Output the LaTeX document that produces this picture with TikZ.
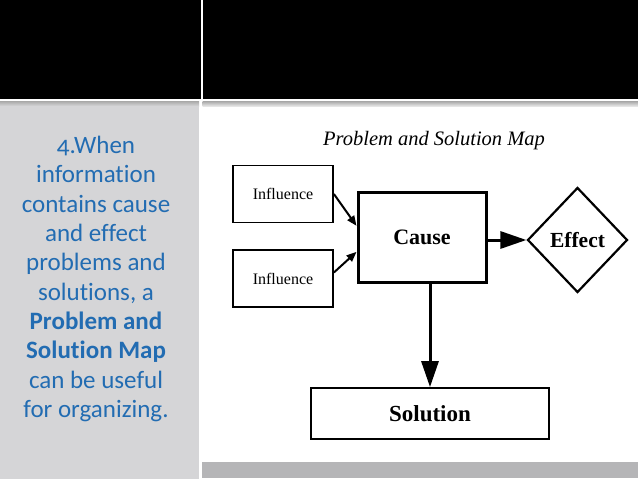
\documentclass[tikz,border=0pt]{standalone}
\usepackage{fontspec}
\setmainfont{Liberation Serif}
\newfontfamily\sidefont[Numbers=OldStyle,Ligatures={NoCommon}]{Carlito}
\usetikzlibrary{shapes.geometric,arrows.meta,calc}
\definecolor{panelgray}{RGB}{213,213,215}
\definecolor{bargray}{RGB}{181,181,183}
\definecolor{sideblue}{RGB}{34,108,178}
\tikzset{
  box/.style={draw=black, line width=1.8pt, inner sep=0pt, fill=white},
  causebox/.style={draw=black, line width=3pt, inner sep=0pt, fill=white},
  infl/.style={box, minimum width=100pt, minimum height=57pt, font=\fontsize{16}{18}\selectfont},
  thinarrow/.style={line width=2pt, -{Triangle[length=10pt,width=8pt]}},
  bigarrow/.style={line width=3pt, -{Triangle[length=26pt,width=17pt]}},
  sidetext/.style={align=center, text=sideblue, inner sep=0pt,
    font=\sidefont\fontsize{25}{29.3}\selectfont}
}
\begin{document}
\begin{tikzpicture}[x=1pt,y=-1pt]
\useasboundingbox (0,0) rectangle (638,479);
\fill[white] (0,0) rectangle (638,479);
\fill[black] (0,0) rectangle (200.7,98.5);
\fill[black] (202.7,0) rectangle (638,98.5);
\fill[panelgray] (0,101.5) rectangle (199,479);
\shade[top color=gray!65, bottom color=panelgray] (0,101.5) rectangle (199,106);
\shade[top color=gray!65, bottom color=gray!20] (202.7,101.5) rectangle (638,106);
\fill[bargray] (202.3,462.3) rectangle (638,478);

\node[sidetext] (side) at (96,279) {4.When\\information\\contains cause\\and effect\\problems and\\solutions, a\\\textbf{Problem and}\\\textbf{Solution Map}\\can be useful\\for organizing.};

\node[anchor=base, font=\itshape\fontsize{20.5}{23}\selectfont] (title) at (434,145) {Problem and Solution Map};

\node[infl] (inf1) at (283,194) {Influence};
\node[infl] (inf2) at (283,278.5) {Influence};
\node[causebox, minimum width=128pt, minimum height=90pt, font=\bfseries\fontsize{22}{24}\selectfont] (cause) at (422,237) {Cause};
\node[diamond, draw=black, line width=2.2pt, inner sep=0pt, fill=white, minimum width=100pt, minimum height=105pt, font=\bfseries\fontsize{21.5}{23}\selectfont] (effect) at (577.5,240) {Effect};
\node[box, minimum width=238pt, minimum height=51pt, font=\bfseries\fontsize{23}{25}\selectfont] (solution) at (430,413.5) {Solution};

\draw[thinarrow] (inf1.east) -- ($(cause.north west)!0.38!(cause.south west)$);
\draw[thinarrow] ([yshift=6pt]inf2.east) -- ($(cause.north west)!0.66!(cause.south west)$);
\draw[bigarrow] (cause.east |- effect.west) -- (effect.west);
\draw[bigarrow] (solution.north |- cause.south) -- (solution.north);
\end{tikzpicture}
\end{document}
